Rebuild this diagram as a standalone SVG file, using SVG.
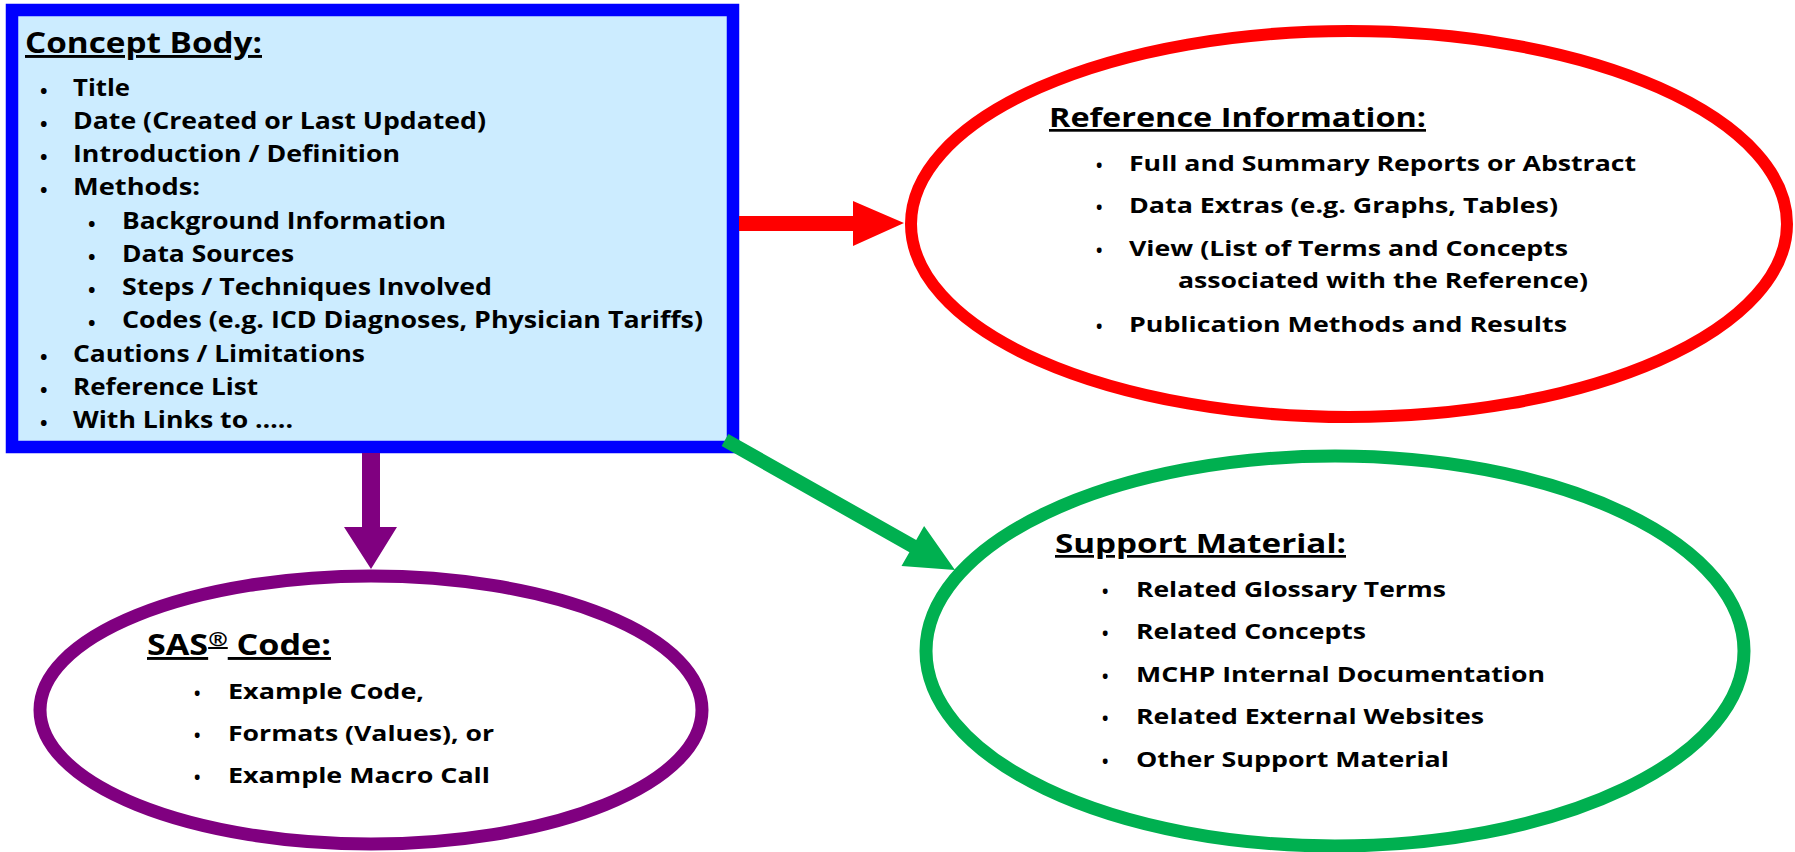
<svg xmlns="http://www.w3.org/2000/svg" width="1795" height="852" viewBox="0 0 1795 852">
<style>
text { font-family: "Open Sans", "Liberation Sans", sans-serif; font-weight: 700; fill: #000; }
.h { font-size: 29px; text-decoration: underline; }
.t { font-size: 23px; }
.e { font-size: 21.5px; }
.b { font-size: 20px; }
.bs { font-size: 17px; }
</style>
<rect width="1795" height="852" fill="#ffffff"/>
<g id="concept-body">
  <rect x="12" y="10" width="721" height="437" fill="#CCECFF" stroke="#0000FF" stroke-width="12.5"/>
  <text class="h" x="25" y="53" textLength="237" lengthAdjust="spacingAndGlyphs">Concept Body:</text>
  <g class="b">
    <text class="b" x="40" y="98">•</text>
    <text class="b" x="40" y="131">•</text>
    <text class="b" x="40" y="164">•</text>
    <text class="b" x="40" y="197">•</text>
    <text class="b" x="88" y="231">•</text>
    <text class="b" x="88" y="264">•</text>
    <text class="b" x="88" y="297">•</text>
    <text class="b" x="88" y="330">•</text>
    <text class="b" x="40" y="364">•</text>
    <text class="b" x="40" y="397">•</text>
    <text class="b" x="40" y="430">•</text>
  </g>
  <text class="t" x="73" y="96" textLength="57" lengthAdjust="spacingAndGlyphs">Title</text>
  <text class="t" x="73" y="129" textLength="413" lengthAdjust="spacingAndGlyphs">Date (Created or Last Updated)</text>
  <text class="t" x="73" y="162" textLength="327" lengthAdjust="spacingAndGlyphs">Introduction / Definition</text>
  <text class="t" x="73" y="195" textLength="127" lengthAdjust="spacingAndGlyphs">Methods:</text>
  <text class="t" x="122" y="229" textLength="324" lengthAdjust="spacingAndGlyphs">Background Information</text>
  <text class="t" x="122" y="262" textLength="172" lengthAdjust="spacingAndGlyphs">Data Sources</text>
  <text class="t" x="122" y="295" textLength="370" lengthAdjust="spacingAndGlyphs">Steps / Techniques Involved</text>
  <text class="t" x="122" y="328" textLength="581" lengthAdjust="spacingAndGlyphs">Codes (e.g. ICD Diagnoses, Physician Tariffs)</text>
  <text class="t" x="73" y="362" textLength="292" lengthAdjust="spacingAndGlyphs">Cautions / Limitations</text>
  <text class="t" x="73" y="395" textLength="185" lengthAdjust="spacingAndGlyphs">Reference List</text>
  <text class="t" x="73" y="428" textLength="220" lengthAdjust="spacingAndGlyphs">With Links to …..</text>
</g>
<g id="reference-information">
  <ellipse cx="1349" cy="224" rx="438" ry="193" fill="#ffffff" stroke="#FF0000" stroke-width="12"/>
  <text class="h" style="font-size:27px" x="1049" y="127" textLength="377" lengthAdjust="spacingAndGlyphs">Reference Information:</text>
  <text class="bs" x="1096" y="172">•</text>
  <text class="bs" x="1096" y="214">•</text>
  <text class="bs" x="1096" y="257">•</text>
  <text class="bs" x="1096" y="333">•</text>
  <text class="e" x="1129" y="171" textLength="507" lengthAdjust="spacingAndGlyphs">Full and Summary Reports or Abstract</text>
  <text class="e" x="1129" y="213" textLength="429" lengthAdjust="spacingAndGlyphs">Data Extras (e.g. Graphs, Tables)</text>
  <text class="e" x="1129" y="256" textLength="439" lengthAdjust="spacingAndGlyphs">View (List of Terms and Concepts</text>
  <text class="e" x="1178" y="288" textLength="410" lengthAdjust="spacingAndGlyphs">associated with the Reference)</text>
  <text class="e" x="1129" y="332" textLength="438" lengthAdjust="spacingAndGlyphs">Publication Methods and Results</text>
</g>
<g id="sas-code">
  <ellipse cx="371" cy="710" rx="331" ry="134" fill="#ffffff" stroke="#800080" stroke-width="13"/>
  <text class="h" x="147" y="655" textLength="184" lengthAdjust="spacingAndGlyphs">SAS<tspan style="font-size:20px" dy="-9">®</tspan><tspan dy="9"> Code:</tspan></text>
  <text class="bs" x="194" y="700">•</text>
  <text class="bs" x="194" y="742">•</text>
  <text class="bs" x="194" y="784">•</text>
  <text class="e" x="228" y="699" textLength="196" lengthAdjust="spacingAndGlyphs">Example Code,</text>
  <text class="e" x="228" y="741" textLength="266" lengthAdjust="spacingAndGlyphs">Formats (Values), or</text>
  <text class="e" x="228" y="783" textLength="262" lengthAdjust="spacingAndGlyphs">Example Macro Call</text>
</g>
<g id="support-material">
  <ellipse cx="1335" cy="651" rx="409" ry="195" fill="#ffffff" stroke="#00B050" stroke-width="13"/>
  <text class="h" style="font-size:27px" x="1055" y="553" textLength="291" lengthAdjust="spacingAndGlyphs">Support Material:</text>
  <text class="bs" x="1102" y="598">•</text>
  <text class="bs" x="1102" y="640">•</text>
  <text class="bs" x="1102" y="683">•</text>
  <text class="bs" x="1102" y="725">•</text>
  <text class="bs" x="1102" y="768">•</text>
  <text class="e" x="1136" y="597" textLength="310" lengthAdjust="spacingAndGlyphs">Related Glossary Terms</text>
  <text class="e" x="1136" y="639" textLength="230" lengthAdjust="spacingAndGlyphs">Related Concepts</text>
  <text class="e" x="1136" y="682" textLength="409" lengthAdjust="spacingAndGlyphs">MCHP Internal Documentation</text>
  <text class="e" x="1136" y="724" textLength="348" lengthAdjust="spacingAndGlyphs">Related External Websites</text>
  <text class="e" x="1136" y="767" textLength="313" lengthAdjust="spacingAndGlyphs">Other Support Material</text>
</g>
<g id="connectors">
  <polygon fill="#FF0000" points="739,216 853,216 853,201 904,223 853,246 853,231 739,231"/>
  <polygon fill="#800080" points="362,453 380,453 380,527 397,527 371,569 344,527 362,527"/>
  <polygon fill="#00B050" points="728.4,433.9 916.2,540 924.1,526.1 955,570 901.5,566.1 909.4,552.2 721.6,446.1"/>
</g>
</svg>
